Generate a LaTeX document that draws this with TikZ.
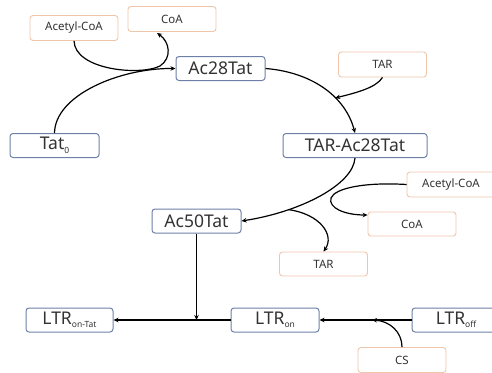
\documentclass[tikz,border=0pt]{standalone}
\usepackage{fontspec}
\setmainfont{Noto Sans}
\usetikzlibrary{arrows.meta}
\definecolor{mainb}{HTML}{6E80A8}
\definecolor{subb}{HTML}{F0C6AA}
\definecolor{txt}{HTML}{333333}
\tikzset{
  mainbox/.style={draw=mainb, line width=1pt, rounded corners=3pt, fill=white, minimum height=24pt, inner sep=0pt, text=txt, font=\fontsize{17.5}{17.5}\selectfont},
  subbox/.style={draw=subb, line width=0.9pt, rounded corners=3pt, fill=white, minimum height=25pt, minimum width=88pt, inner sep=0pt, text=txt, font=\fontsize{11.5}{11.5}\selectfont},
  conn/.style={line width=1.2pt, -{Stealth[length=5pt,width=4.5pt]}}
}
\newcommand{\smallsub}[1]{\raisebox{-0.2em}{\fontsize{8.5}{8.5}\selectfont #1}}
\begin{document}
\begin{tikzpicture}[x=1pt,y=-1pt]
\useasboundingbox (0,0) rectangle (492,372);
\clip (0,0) rectangle (492,372);
% nodes
\node[subbox] (acoa1) at (74,28) {Acetyl-CoA};
\node[subbox] (coa1) at (172,19) {CoA};
\node[mainbox, minimum width=89pt] (ac28) at (220.5,68.5) {Ac28Tat};
\node[mainbox, minimum width=89pt] (tat0) at (54.5,145.5) {Tat\smallsub{0}};
\node[subbox] (tar1) at (382.5,64.5) {TAR};
\node[mainbox, minimum width=144pt] (tarac) at (355,145.5) {TAR-Ac28Tat};
\node[subbox] (acoa2) at (451,184.5) {Acetyl-CoA};
\node[subbox, minimum height=24pt] (coa2) at (412,224) {CoA};
\node[mainbox, minimum width=89pt] (ac50) at (196.5,221) {Ac50Tat};
\node[subbox, minimum height=24pt] (tar2) at (323.5,264) {TAR};
\node[mainbox, minimum width=87pt] (ltrt) at (69.5,320) {LTR\smallsub{on-Tat}};
\node[mainbox, minimum width=88pt] (ltron) at (275,320) {LTR\smallsub{on}};
\node[mainbox, minimum width=88pt] (ltroff) at (456,320) {LTR\smallsub{off}};
\node[subbox] (cs) at (402,360) {CS};
% connectors
\draw[conn] (tat0.north) .. controls (55,95) and (120,68) .. (ac28.west);
\draw[conn] (acoa1.south) .. controls (75,70) and (140,76) .. (160,66) .. controls (172,58) and (170,42) .. (157,33);
\draw[conn] (ac28.east) .. controls (310,72) and (345,95) .. coordinate[pos=0.64] (j1) (tarac.north);
\draw[conn] (tar1.south) .. controls (376,88) and (355,93) .. (j1);
\draw[conn] (tarac.south) .. controls (353,185) and (300,212) .. coordinate[pos=0.72] (j3) (ac50.east);
\draw[conn] (acoa2.west) .. controls (365,182) and (335,188) .. (331,198) .. controls (328,208) and (345,215) .. (coa2.north west |- 0,215);
\draw[conn] (j3) .. controls (320,214) and (335,235) .. (tar2.north);
\coordinate (jl) at (ac50.south |- ltron.west);
\draw[conn] (ac50.south) -- (jl);
\draw[conn] (ltron.west) -- (ltrt.east);
\draw[conn] (ltroff.west) -- (ltron.east);
\coordinate (jc) at (372,320);
\draw[conn] (cs.north) .. controls (402,332) and (390,321) .. (jc);
\end{tikzpicture}
\end{document}
